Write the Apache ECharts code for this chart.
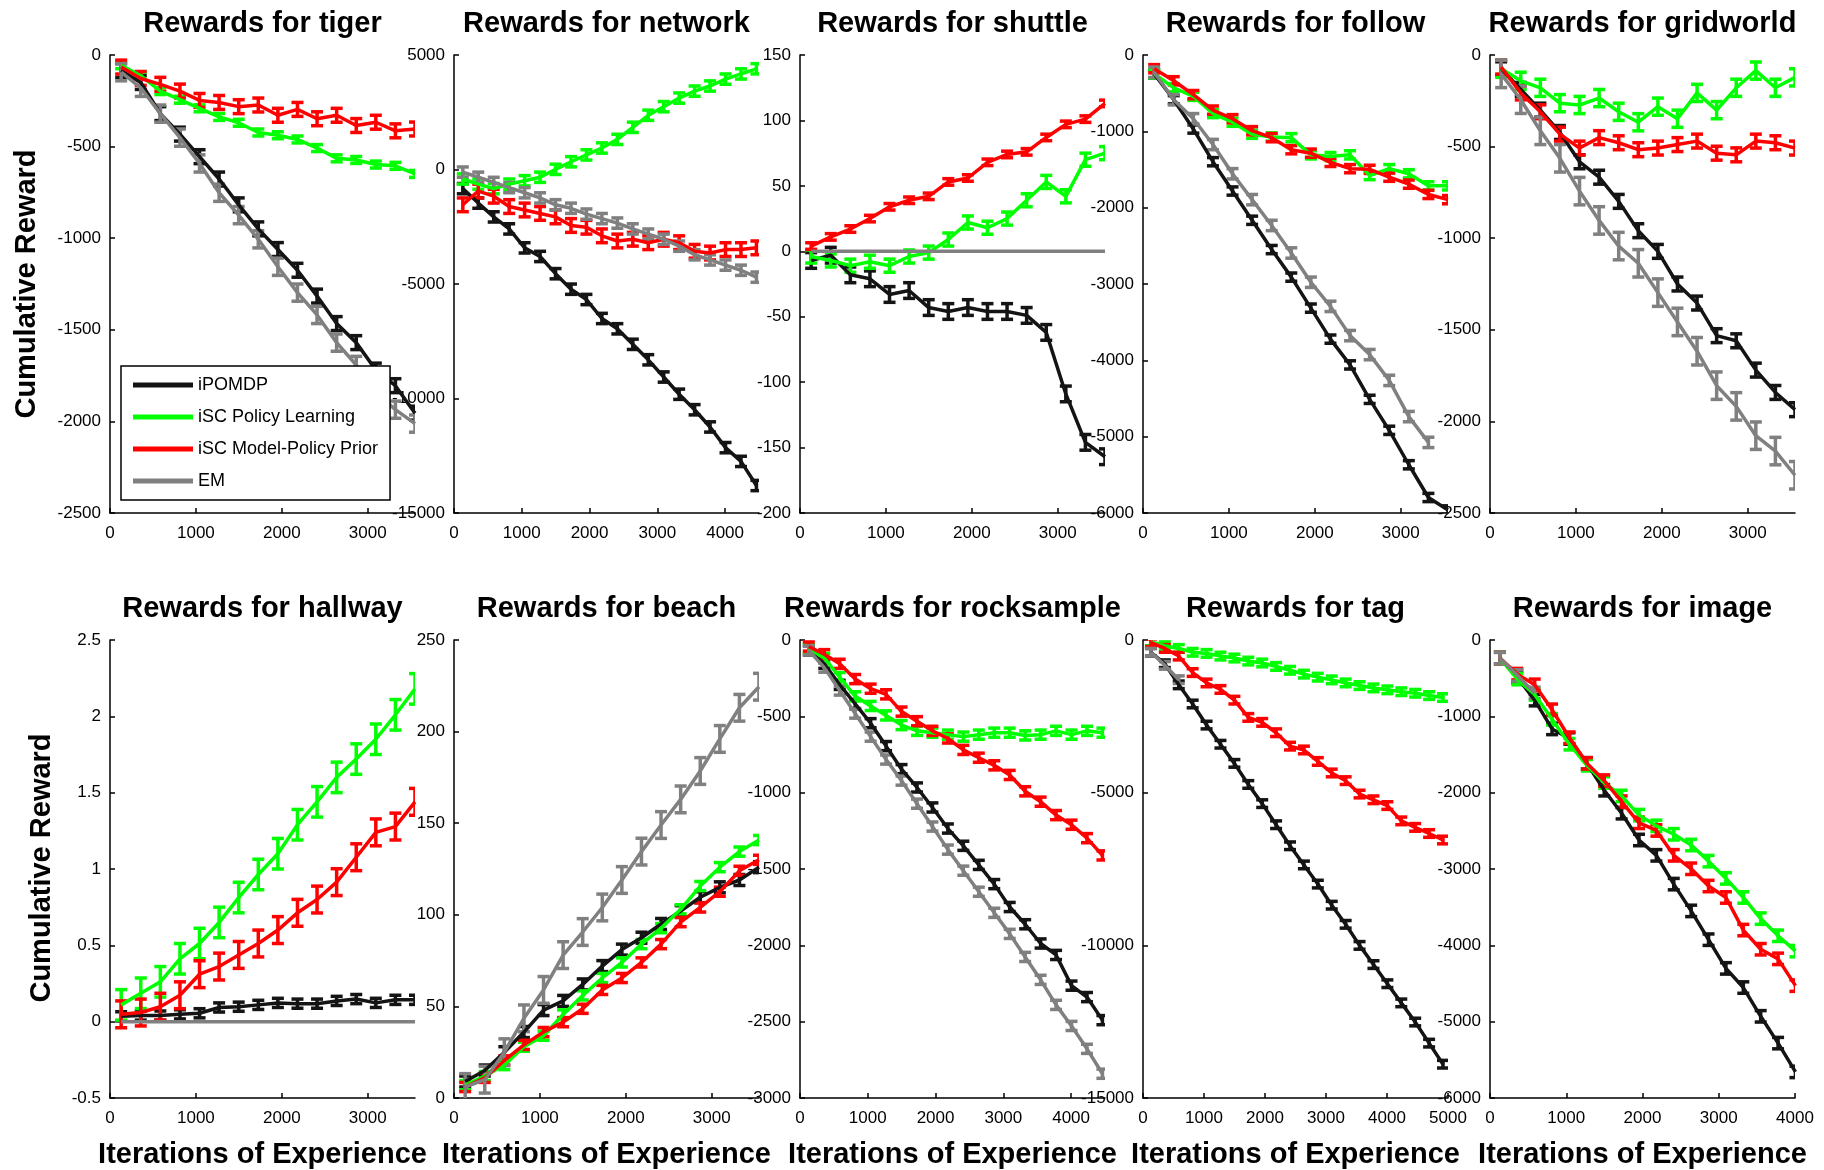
<!DOCTYPE html>
<html><head><meta charset="utf-8">
<script src="https://cdn.jsdelivr.net/npm/echarts@6/dist/echarts.min.js"></script>
<style>html,body{margin:0;padding:0;background:#fff}#c{width:1824px;height:1170px}</style>
</head><body><div id="c"></div>
<script>
// ---------- data ----------
const iterations = [130, 358, 586, 814, 1042, 1270, 1498, 1726, 1954, 2182, 2410, 2638, 2866, 3094, 3322, 3550, 3778, 4006, 4234, 4462, 4690, 4918];
const seriesNames = ['iPOMDP', 'iSC Policy Learning', 'iSC Model-Policy Prior', 'EM'];
const panelTitles = ['Rewards for tiger', 'Rewards for network', 'Rewards for shuttle', 'Rewards for follow', 'Rewards for gridworld',
  'Rewards for hallway', 'Rewards for beach', 'Rewards for rocksample', 'Rewards for tag', 'Rewards for image'];
const xMaxes = [3550, 4500, 3550, 3550, 3550, 3550, 3550, 4500, 5000, 4000];
const xTickLabels = [
  [0, 1000, 2000, 3000], [0, 1000, 2000, 3000, 4000], [0, 1000, 2000, 3000], [0, 1000, 2000, 3000], [0, 1000, 2000, 3000],
  [0, 1000, 2000, 3000], [0, 1000, 2000, 3000], [0, 1000, 2000, 3000, 4000], [0, 1000, 2000, 3000, 4000, 5000], [0, 1000, 2000, 3000, 4000]
];
const yMins = [-2500, -15000, -200, -6000, -2500, -0.5, 0, -3000, -15000, -6000];
const yMaxs = [0, 5000, 150, 0, 0, 2.5, 250, 0, 0, 0];
const ySteps = [500, 5000, 50, 1000, 500, 0.5, 50, 500, 5000, 1000];

const tigerIPOMDP = [-85, -150, -320, -432, -555, -677, -818, -949, -1062, -1175, -1316, -1466, -1570, -1720, -1805, -1955];
const tigerPolicy = [-56, -113, -197, -244, -291, -338, -370, -423, -438, -461, -508, -564, -573, -598, -605, -649];
const tigerPrior = [-66, -128, -160, -197, -248, -259, -282, -273, -329, -297, -348, -329, -385, -367, -414, -404];
const tigerEM = [-94, -179, -320, -451, -592, -752, -874, -1006, -1156, -1297, -1419, -1570, -1692, -1842, -1936, -2012];
const tigerErr = [38, 19, 38, 47];

const networkIPOMDP = [-836, -1467, -2069, -2595, -3422, -3798, -4550, -5227, -5678, -6506, -6957, -7634, -8310, -9062, -9814, -10491, -11243, -12146, -12747, -13800];
const networkPolicy = [-414, -640, -836, -640, -490, -339, 7, 338, 638, 939, 1315, 1842, 2368, 2744, 3120, 3421, 3646, 3947, 4173, 4398];
const networkPrior = [-1542, -941, -1166, -1618, -1768, -1918, -2069, -2445, -2520, -2896, -3122, -3046, -3197, -3046, -3197, -3573, -3648, -3498, -3498, -3422];
const networkEM = [-114, -339, -565, -790, -1016, -1242, -1542, -1693, -1948, -2144, -2340, -2595, -2821, -3046, -3347, -3723, -3949, -4174, -4400, -4701];
const networkErr = [225, 225, 300, 225];

const shuttleIPOMDP = [-7, -3, -18, -21, -33, -30, -43, -46, -43, -46, -46, -49, -62, -109, -146, -157];
const shuttlePolicy = [-4, -7, -11, -8, -11, -4, -1, 9, 22, 18, 25, 39, 53, 42, 70, 75];
const shuttlePrior = [4, 11, 17, 25, 34, 39, 42, 53, 56, 68, 74, 76, 87, 97, 101, 113];
const shuttleEM = [0, 0, 0, 0, 0, 0, 0, 0, 0, 0, 0, 0, 0, 0, 0, 0];
const shuttleErr = [6, 5, 2.5, 0];

const followIPOMDP = [-248, -586, -970, -1398, -1782, -2165, -2549, -2910, -3316, -3722, -4060, -4511, -4917, -5368, -5797, -5960];
const followPolicy = [-248, -429, -541, -767, -880, -1038, -1074, -1083, -1308, -1331, -1308, -1579, -1489, -1556, -1714, -1714];
const followPrior = [-180, -338, -519, -722, -835, -992, -1083, -1241, -1286, -1407, -1489, -1498, -1601, -1692, -1827, -1895];
const followEM = [-226, -586, -835, -1173, -1556, -1895, -2233, -2594, -2977, -3293, -3676, -3925, -4263, -4737, -5075];
const followErr = [54, 54, 54, 68];

const gridworldIPOMDP = [-75, -188, -301, -423, -583, -667, -799, -959, -1072, -1250, -1354, -1532, -1560, -1720, -1842, -1936];
const gridworldPolicy = [-75, -141, -179, -263, -273, -235, -310, -367, -282, -348, -207, -301, -179, -85, -179, -122];
const gridworldPrior = [-66, -207, -310, -432, -508, -451, -479, -517, -508, -489, -470, -536, -545, -470, -479, -508];
const gridworldEM = [-103, -244, -414, -564, -743, -903, -1043, -1137, -1297, -1457, -1617, -1805, -1918, -2078, -2162, -2294];
const gridworldErr = [38, 47, 38, 75];

const hallwayIPOMDP = [0.035, 0.04, 0.04, 0.048, 0.055, 0.093, 0.098, 0.11, 0.123, 0.118, 0.118, 0.136, 0.148, 0.123, 0.143, 0.143];
const hallwayPolicy = [0.11, 0.186, 0.261, 0.412, 0.512, 0.65, 0.813, 0.964, 1.10, 1.29, 1.44, 1.60, 1.72, 1.85, 2.01, 2.18];
const hallwayPrior = [0.048, 0.06, 0.098, 0.173, 0.311, 0.361, 0.437, 0.512, 0.60, 0.713, 0.80, 0.914, 1.077, 1.24, 1.278, 1.44];
const hallwayEM = [0, 0, 0, 0, 0, 0, 0, 0, 0, 0, 0, 0, 0, 0, 0, 0];
const hallwayErr = [0.03, 0.1, 0.088, 0];

const beachIPOMDP = [9, 15, 25, 36, 48, 53, 62, 72, 81, 87.5, 95, 102, 109.6, 115, 119, 126];
const beachPolicy = [7, 12, 18, 28, 34, 45.6, 56, 65.5, 74, 84, 92.7, 103, 115.7, 126, 134.5, 140.8];
const beachPrior = [6, 11, 20.5, 29, 36, 41.4, 48.7, 59, 65.5, 74, 84, 96, 104, 112.6, 124, 130];
const beachEM = [6, 10, 25, 43.5, 59, 78, 90.6, 104, 119, 134.5, 149, 163, 178.5, 196, 213, 224.5];
const beachErr = [3, 2.5, 2.5, 7.3];

const rocksampleIPOMDP = [-68, -156, -294, -419, -545, -695, -846, -966, -1097, -1235, -1348, -1473, -1599, -1749, -1862, -1988, -2063, -2264, -2339, -2490];
const rocksamplePolicy = [-55, -118, -243, -369, -432, -494, -557, -595, -607, -620, -633, -620, -607, -607, -625, -620, -595, -620, -595, -607];
const rocksamplePrior = [-43, -93, -156, -256, -319, -356, -469, -532, -595, -645, -720, -771, -821, -884, -991, -1059, -1147, -1210, -1298, -1411];
const rocksampleEM = [-68, -181, -331, -482, -633, -783, -921, -1072, -1222, -1373, -1511, -1649, -1787, -1925, -2076, -2226, -2390, -2528, -2678, -2841];
const rocksampleErr = [30, 30, 30, 30];

const tagIPOMDP = [-402, -778, -1468, -2096, -2786, -3414, -4041, -4731, -5359, -6049, -6739, -7367, -7994, -8685, -9312, -10002, -10630, -11257, -11885, -12512, -13203, -13893];
const tagPolicy = [-63, -188, -276, -402, -439, -527, -590, -690, -753, -866, -991, -1117, -1217, -1305, -1406, -1493, -1569, -1632, -1694, -1744, -1820, -1883];
const tagPrior = [-88, -276, -527, -1067, -1406, -1619, -1970, -2535, -2698, -3037, -3476, -3602, -3978, -4355, -4606, -5045, -5233, -5422, -5924, -6137, -6338, -6551];
const tagEM = [-400, -830, -1300];
const tagErr = [125, 125, 125, 125];

const imageIPOMDP = [-236, -487, -788, -1165, -1290, -1616, -1968, -2269, -2620, -2821, -3198, -3549, -3926, -4302, -4553, -4930, -5281, -5658];
const imagePolicy = [-236, -512, -713, -1039, -1365, -1641, -1867, -2043, -2294, -2435, -2545, -2686, -2897, -3123, -3373, -3650, -3875, -4076];
const imagePrior = [-236, -447, -587, -914, -1280, -1616, -1842, -2118, -2395, -2495, -2821, -2997, -3223, -3373, -3800, -4051, -4177, -4528];
const imageEM = [-236, -465, -693];
const imageErr = [75, 75, 75, 75];

const panelData = [
  [tigerIPOMDP, tigerPolicy, tigerPrior, tigerEM],
  [networkIPOMDP, networkPolicy, networkPrior, networkEM],
  [shuttleIPOMDP, shuttlePolicy, shuttlePrior, shuttleEM],
  [followIPOMDP, followPolicy, followPrior, followEM],
  [gridworldIPOMDP, gridworldPolicy, gridworldPrior, gridworldEM],
  [hallwayIPOMDP, hallwayPolicy, hallwayPrior, hallwayEM],
  [beachIPOMDP, beachPolicy, beachPrior, beachEM],
  [rocksampleIPOMDP, rocksamplePolicy, rocksamplePrior, rocksampleEM],
  [tagIPOMDP, tagPolicy, tagPrior, tagEM],
  [imageIPOMDP, imagePolicy, imagePrior, imageEM]
];
const panelErr = [tigerErr, networkErr, shuttleErr, followErr, gridworldErr, hallwayErr, beachErr, rocksampleErr, tagErr, imageErr];

// ---------- layout / style ----------
const FONT = "'Liberation Sans', Arial, Helvetica, sans-serif";
const seriesColors = ['#141414', '#00ff00', '#ff0000', '#808080'];
const gridLefts = [110, 454, 800, 1143, 1490];
const gridTops = [55, 640];
const gridW = 305, gridH = 458;

const grids = [], xAxes = [], yAxes = [], series = [], graphics = [];

function renderErr(params, api) {
  const x = api.value(0), lo = api.value(1), hi = api.value(2);
  const a = api.coord([x, hi]), b = api.coord([x, lo]);
  const w = 6;
  const style = { stroke: api.visual('color'), lineWidth: 3.5 };
  return {
    type: 'group', children: [
      { type: 'line', shape: { x1: a[0], y1: a[1], x2: b[0], y2: b[1] }, style: style },
      { type: 'line', shape: { x1: a[0] - w, y1: a[1], x2: a[0] + w, y2: a[1] }, style: style },
      { type: 'line', shape: { x1: b[0] - w, y1: b[1], x2: b[0] + w, y2: b[1] }, style: style }
    ]
  };
}

function label(text, x, y, size, rot) {
  return {
    type: 'text', x: x, y: y, rotation: rot || 0,
    style: { text: text, fontSize: size, fontWeight: 'bold', fontFamily: FONT, fill: '#000',
      align: 'center', verticalAlign: 'middle', textAlign: 'center', textVerticalAlign: 'middle' }
  };
}

for (let p = 0; p < 10; p++) {
  const row = Math.floor(p / 5), col = p % 5;
  const left = gridLefts[col], top = gridTops[row];
  grids.push({ left: left, top: top, width: gridW, height: gridH, containLabel: false });
  xAxes.push({
    type: 'value', gridIndex: p, min: 0, max: xMaxes[p],
    axisLine: { onZero: false, lineStyle: { color: '#000', width: 1.5 } },
    axisTick: { inside: true, length: 5, customValues: xTickLabels[p], lineStyle: { color: '#000', width: 1.5 } },
    axisLabel: { customValues: xTickLabels[p], color: '#000', fontSize: 17, fontFamily: FONT, margin: 12, formatter: v => String(v) },
    splitLine: { show: false }
  });
  yAxes.push({
    type: 'value', gridIndex: p, min: yMins[p], max: yMaxs[p], interval: ySteps[p],
    axisLine: { show: true, onZero: false, lineStyle: { color: '#000', width: 1.5 } },
    axisTick: { show: true, inside: true, length: 5, lineStyle: { color: '#000', width: 1.5 } },
    axisLabel: { color: '#000', fontSize: 17, fontFamily: FONT, margin: 9, formatter: v => String(Math.round(v * 100) / 100) },
    splitLine: { show: false }
  });
  graphics.push(label(panelTitles[p], left + gridW / 2, row === 0 ? 24 : 608.5, 29));
  if (row === 1) {
    graphics.push(label('Iterations of Experience', left + gridW / 2, 1155, 29));
  }
  for (let s = 0; s < 4; s++) {
    const vals = panelData[p][s];
    const err = panelErr[p][s];
    const color = seriesColors[s];
    series.push({
      type: 'line', name: seriesNames[s], xAxisIndex: p, yAxisIndex: p,
      data: vals.map((v, i) => [iterations[i], v]),
      showSymbol: false, symbol: 'none', clip: true, silent: true,
      lineStyle: { color: color, width: 3.5 }, itemStyle: { color: color }, z: 2
    });
    if (err > 0) {
      series.push({
        type: 'custom', name: seriesNames[s], xAxisIndex: p, yAxisIndex: p,
        data: vals.map((v, i) => [iterations[i], v - err, v + err]),
        encode: { x: 0, y: [1, 2] },
        renderItem: renderErr, clip: true, silent: true,
        itemStyle: { color: color }, z: 2
      });
    }
  }
}

graphics.push(label('Cumulative Reward', 27, 284, 29, Math.PI / 2));
graphics.push(label('Cumulative Reward', 42, 868, 29, Math.PI / 2));

const chart = echarts.init(document.getElementById('c'), null, { renderer: 'canvas' });
chart.setOption({
  animation: false,
  backgroundColor: '#fff',
  grid: grids, xAxis: xAxes, yAxis: yAxes, series: series,
  legend: {
    data: seriesNames, orient: 'vertical', left: 121, top: 366,
    icon: 'rect', itemWidth: 60, itemHeight: 5, itemGap: 12,
    padding: [9, 12, 9, 12], backgroundColor: '#fff', borderColor: '#000', borderWidth: 1.5,
    textStyle: { fontSize: 18, color: '#000', fontFamily: FONT, lineHeight: 20 },
    selectedMode: false, z: 10
  },
  graphic: graphics
});
</script>
</body></html>
